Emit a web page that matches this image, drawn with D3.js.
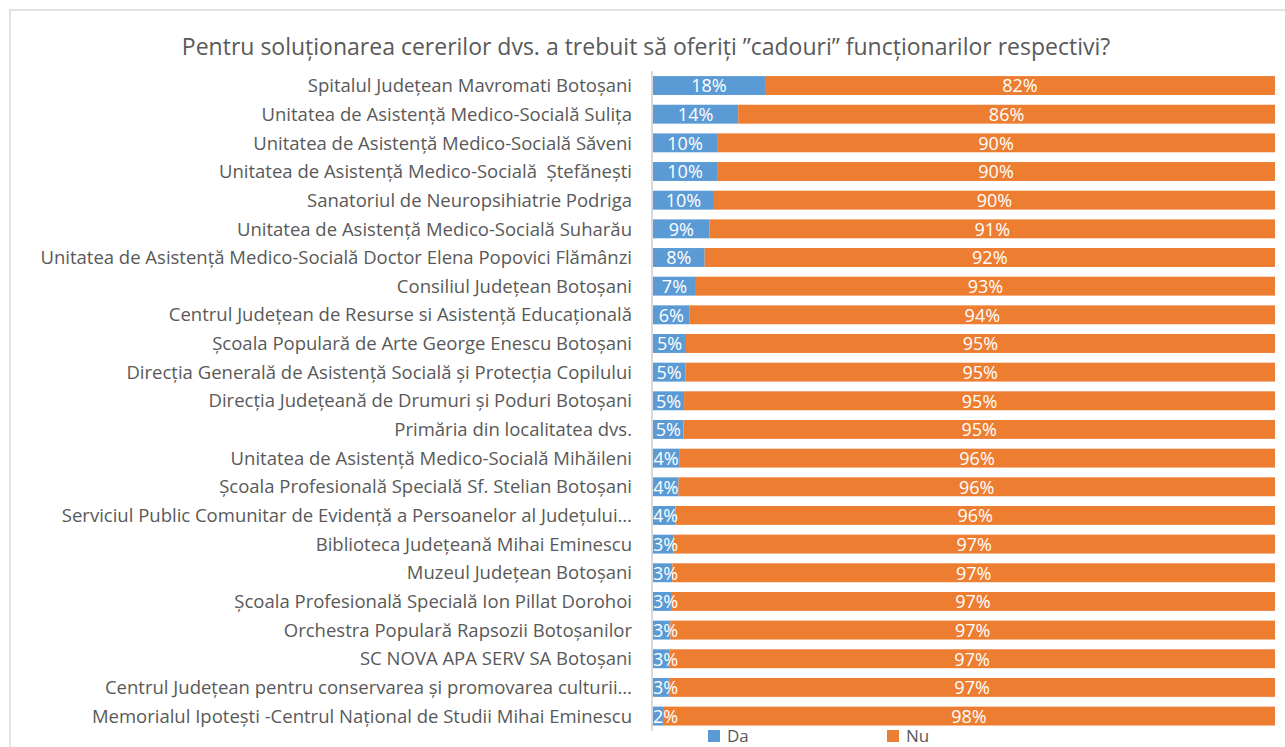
<!DOCTYPE html>
<html>
<head>
<meta charset="utf-8">
<script src="https://cdn.jsdelivr.net/npm/d3@7"></script>
<style>
  body { margin: 0; background: #fff; overflow: hidden; }
  svg text { font-family: "Open Sans", Lato, sans-serif; }
</style>
</head>
<body>
<div id="chart"></div>
<script>
const categories = [
  "Spitalul Județean Mavromati Botoșani",
  "Unitatea de Asistență Medico-Socială Sulița",
  "Unitatea de Asistență Medico-Socială Săveni",
  "Unitatea de Asistență Medico-Socială  Ștefănești",
  "Sanatoriul de Neuropsihiatrie Podriga",
  "Unitatea de Asistență Medico-Socială Suharău",
  "Unitatea de Asistență Medico-Socială Doctor Elena Popovici Flămânzi",
  "Consiliul Județean Botoșani",
  "Centrul Județean de Resurse si Asistență Educațională",
  "Școala Populară de Arte George Enescu Botoșani",
  "Direcția Generală de Asistență Socială și Protecția Copilului",
  "Direcția Județeană de Drumuri și Poduri Botoșani",
  "Primăria din localitatea dvs.",
  "Unitatea de Asistență Medico-Socială Mihăileni",
  "Școala Profesională Specială Sf. Stelian Botoșani",
  "Serviciul Public Comunitar de Evidență a Persoanelor al Județului…",
  "Biblioteca Județeană Mihai Eminescu",
  "Muzeul Județean Botoșani",
  "Școala Profesională Specială Ion Pillat Dorohoi",
  "Orchestra Populară Rapsozii Botoșanilor",
  "SC NOVA APA SERV SA Botoșani",
  "Centrul Județean pentru conservarea și promovarea culturii…",
  "Memorialul Ipotești -Centrul Național de Studii Mihai Eminescu"
];
const da = [18.0, 13.7, 10.3, 10.3, 9.8, 9.1, 8.3, 6.9, 5.9, 5.3, 5.2, 5.0, 4.9, 4.2, 4.1, 3.6, 3.3, 3.1, 2.9, 2.8, 2.6, 2.6, 1.6];
const nu = [82.0, 86.3, 89.7, 89.7, 90.2, 90.9, 91.7, 93.1, 94.1, 94.7, 94.8, 95.0, 95.1, 95.8, 95.9, 96.4, 96.7, 96.9, 97.1, 97.2, 97.4, 97.4, 98.4];
const seriesNames = ["Da", "Nu"];
const colors = ["#5b9bd5", "#ed7d31"];
const title = "Pentru soluționarea cererilor dvs. a trebuit să oferiți ”cadouri” funcționarilor respectivi?";

const width = 1285, height = 747;
const textColor = "#595959";

const svg = d3.select("#chart").append("svg")
  .attr("width", width)
  .attr("height", height);

// chart frame (only top and left edges are visible)
svg.append("path")
  .attr("d", "M10,760 L10,10 L1300,10")
  .attr("fill", "none")
  .attr("stroke", "#d9d9d9")
  .attr("stroke-width", 1.5);

svg.append("text")
  .attr("x", 646)
  .attr("y", 55)
  .attr("text-anchor", "middle")
  .attr("fill", textColor)
  .style("font-size", "23px")
  .text(title);

const rows = categories.map((c, i) => ({ name: c, Da: da[i], Nu: nu[i] }));

const x = d3.scaleLinear().domain([0, 100]).range([653, 1275]);
const y = d3.scaleBand()
  .domain(categories)
  .range([71.2, 730.4])
  .paddingInner(0.34)
  .paddingOuter(0.17);

const stack = d3.stack().keys(seriesNames);
const layers = stack(rows);

const groups = svg.selectAll(".layer")
  .data(layers)
  .enter()
  .append("g")
  .attr("class", "layer")
  .attr("fill", (d, i) => colors[i]);

groups.selectAll("rect")
  .data(d => d)
  .enter()
  .append("rect")
  .attr("x", d => x(d[0]))
  .attr("y", d => y(d.data.name))
  .attr("width", d => x(d[1]) - x(d[0]))
  .attr("height", y.bandwidth());

// value labels, drawn after all bars so they stay on top
const labelG = svg.append("g");
layers.forEach(layer => {
  labelG.selectAll(null)
    .data(layer)
    .enter()
    .append("text")
    .attr("fill", "white")
    .attr("text-anchor", "middle")
    .attr("dy", "0.35em")
    .style("font-size", "18px")
    .attr("y", d => y(d.data.name) + y.bandwidth() / 2 + 0.5)
    .text(d => Math.round(d[1] - d[0]) + "%")
    .attr("x", function(d) {
      const cx = (x(d[0]) + x(d[1])) / 2;
      const w = this.getComputedTextLength();
      return Math.max(cx, x(0) + w / 2);
    });
});

// axis line
svg.append("line")
  .attr("x1", 652).attr("x2", 652)
  .attr("y1", 71).attr("y2", 731)
  .attr("stroke", "#d9d9d9")
  .attr("stroke-width", 2);

// category labels
const yAxis = d3.axisLeft(y).tickSize(0).tickPadding(0);
const axisG = svg.append("g")
  .attr("transform", "translate(632,0)")
  .call(yAxis);
axisG.select(".domain").remove();
axisG.selectAll("text")
  .attr("fill", textColor)
  .attr("dy", "0.36em")
  .style("font-size", "18.5px")
  .style("font-family", "'Open Sans', Lato, sans-serif")
  .style("white-space", "pre");

// legend
const legend = svg.selectAll(".legend")
  .data(seriesNames)
  .enter()
  .append("g")
  .attr("class", "legend")
  .attr("transform", (d, i) => `translate(${708 + i * 179},730)`);

legend.append("rect")
  .attr("width", 12)
  .attr("height", 12)
  .attr("fill", (d, i) => colors[i]);

legend.append("text")
  .attr("x", 19)
  .attr("y", 12)
  .attr("fill", textColor)
  .style("font-size", "17px")
  .text(d => d);
</script>
</body>
</html>
